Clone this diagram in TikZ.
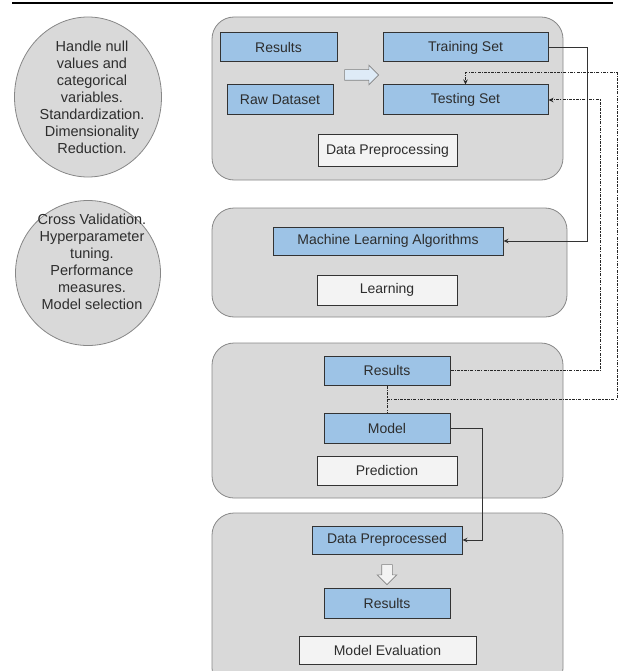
\documentclass[tikz,border=0pt]{standalone}
\usepackage{fontspec}
\setmainfont{Liberation Sans}
\usepackage{tikz}
\usetikzlibrary{shapes,arrows.meta,positioning,calc}
\definecolor{boxblue}{RGB}{157,195,230}
\definecolor{panelgray}{RGB}{217,217,217}
\definecolor{paneledge}{RGB}{135,135,135}
\definecolor{lblwhite}{RGB}{243,243,243}
\definecolor{arrowfill}{RGB}{222,235,247}
\definecolor{txtgray}{RGB}{45,45,45}

\tikzset{
  panel/.style={draw=paneledge, fill=panelgray, rounded corners=22pt, line width=0.8pt},
  bubble/.style={circle, draw=paneledge, fill=panelgray, inner sep=0pt, line width=0.8pt},
  bubbletxt/.style={align=center, inner sep=0pt, font=\fontsize{14.5}{17}\selectfont},
  bluebox/.style={draw=black!80, fill=boxblue, line width=1pt, minimum height=29pt, inner sep=0pt},
  lblbox/.style={draw=black!80, fill=lblwhite, line width=1pt, minimum height=30pt, inner sep=0pt},
  hollow/.style={single arrow, draw=gray, fill=arrowfill, line width=0.6pt, inner sep=5pt,
                 single arrow head extend=4.5pt, minimum height=34pt},
  link/.style={black!80, line width=0.9pt},
  dlink/.style={black!85, line width=1pt, dash pattern=on 3pt off 1.2pt on 1.2pt off 1.2pt},
}

\begin{document}
\begin{tikzpicture}[x=1pt, y=-1pt, font=\fontsize{14}{16}\selectfont, text=txtgray,
                    >={Stealth[length=5pt,width=4.5pt]}]
  \useasboundingbox (0,0) rectangle (619,671);
  \draw[line width=1.3pt] (12,3) -- (613,3);

  % side notes
  \node[bubble, ellipse, minimum width=147pt, minimum height=160pt] (prenote) at (88,97) {};
  \node[bubbletxt] (prenotetxt) at (92,97)
    {Handle null\\values and\\categorical\\variables.\\Standardization.\\Dimensionality\\Reduction.};
  \node[bubble, minimum size=145pt] (learnnote) at (88,273) {};
  \node[bubbletxt] (learnnotetxt) at (92,262)
    {Cross Validation.\\Hyperparameter\\tuning.\\Performance\\measures.\\Model selection};

  % panels
  \node[panel, minimum width=351pt, minimum height=163pt] (ppre) at (387.5,98.5) {};
  \node[panel, minimum width=355pt, minimum height=109pt] (plearn) at (389.5,262.5) {};
  \node[panel, minimum width=351pt, minimum height=155pt] (ppred) at (387.5,420.5) {};
  \node[panel, minimum width=351pt, minimum height=177pt] (peval) at (387.5,601.5) {};

  % data preprocessing
  \node[bluebox, minimum width=117pt] (res1) at (278.5,47.5) {Results};
  \node[bluebox, minimum width=106pt, minimum height=30pt] (raw) at (280,100) {Raw Dataset};
  \node[bluebox, minimum width=165pt] (train) at (465.5,47.5) {Training Set};
  \node[bluebox, minimum width=165pt, minimum height=30pt] (test) at (465.5,100) {Testing Set};
  \node[hollow] (split) at (359,75) {};
  \node[lblbox, minimum width=139pt, minimum height=32pt] (lpre) at (387.5,151) {Data Preprocessing};

  % learning
  \node[bluebox, minimum width=230pt, minimum height=28pt] (mla) at (388,241) {Machine Learning Algorithms};
  \node[lblbox, minimum width=140pt] (llearn) at (387,290) {Learning};

  % prediction
  \node[bluebox, minimum width=126pt] (res3) at (387,370.5) {Results};
  \node[bluebox, minimum width=126pt, minimum height=30pt] (model) at (387,428) {Model};
  \node[lblbox, minimum width=140pt, minimum height=29pt] (lpred) at (387,470.5) {Prediction};

  % model evaluation
  \node[bluebox, minimum width=150pt, minimum height=28pt] (dpd) at (387,540) {Data Preprocessed};
  \node[hollow, fill=lblwhite, minimum height=20pt, shape border rotate=270] (down) at (387,572) {};
  \node[bluebox, minimum width=126pt, minimum height=30pt] (res4) at (387,603) {Results};
  \node[lblbox, minimum width=177pt, minimum height=28pt] (leval) at (387.5,650) {Model Evaluation};

  % connectors
  \draw[link, ->] (train.east) -- ++(39,0) |- (mla.east);
  \draw[link, ->] (model.east) -- ++(32,0) |- (dpd.east);
  \coordinate (jn) at ($(res3.south)!0.5!(model.north)$);
  \draw[dlink] (res3.south) -- (model.north);
  \draw[dlink, ->] (res3.east) -- ++(150,0) |- (test.east);
  \draw[dlink, ->] (jn) -- ++(230,0) |- ($(test.north)+(0,-12)$) -- (test.north);
\end{tikzpicture}
\end{document}
